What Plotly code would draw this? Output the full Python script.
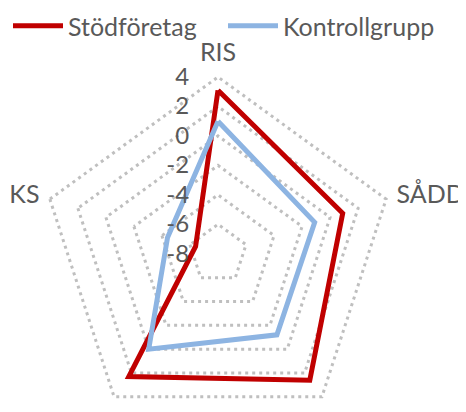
import plotly.graph_objects as go

categories = ["RIS", "SÅDD", "FUB", "TRP", "KS"]
stod_values = [3.1, 0.9, 2.6, 2.3, -6.4]
kontroll_values = [1.0, -1.1, -1.2, 0.0, -4.4]
series_names = ["Stödföretag", "Kontrollgrupp"]
radial_ticks = [-8, -6, -4, -2, 0, 2, 4]

FONT = "Lato, Open Sans, sans-serif"
GREY = "#595959"

fig = go.Figure()
fig.add_trace(go.Scatterpolar(
    r=stod_values + stod_values[:1], theta=categories + categories[:1],
    mode="lines", name=series_names[0],
    line=dict(color="#C00000", width=5),
))
fig.add_trace(go.Scatterpolar(
    r=kontroll_values + kontroll_values[:1], theta=categories + categories[:1],
    mode="lines", name=series_names[1],
    line=dict(color="#8DB4E2", width=5),
))

# page body has an 8px margin; figure coordinates are shifted accordingly
W = 466
R_MAX = 4.3
R = 177 * (R_MAX + 8) / 12.0
cx, cy = 210, 246
H = int(round(cy + R))
fig.update_layout(
    width=W, height=H,
    margin=dict(l=0, r=0, t=0, b=0, autoexpand=False),
    paper_bgcolor="white",
    font=dict(family=FONT, color=GREY),
    showlegend=True,
    legend=dict(orientation="h", x=0, y=1 + 5 / H, xref="paper", yref="paper",
                xanchor="left", yanchor="top", font=dict(size=25, color=GREY),
                itemwidth=50, entrywidth=150, entrywidthmode="pixels",
                tracegroupgap=0, bgcolor="rgba(0,0,0,0)"),
    polar=dict(
        bgcolor="white",
        gridshape="linear",
        domain=dict(x=[(cx - R) / W, (cx + R) / W], y=[0, 1 - (cy - R) / H]),
        radialaxis=dict(
            range=[-8, R_MAX], tickvals=radial_ticks, ticktext=[str(v) for v in radial_ticks],
            angle=90, tickangle=90, side="counterclockwise",
            showline=False, ticks="outside", ticklen=20, tickcolor="rgba(0,0,0,0)",
            tickfont=dict(size=24, color=GREY, family=FONT),
            showgrid=True, gridcolor="#BFBFBF", gridwidth=3, griddash="3px,4px",
        ),
        angularaxis=dict(
            rotation=90, direction="clockwise",
            showline=False, showgrid=False,
            ticks="outside", ticklen=1, tickcolor="rgba(0,0,0,0)",
            tickfont=dict(size=25, color=GREY, family=FONT),
        ),
    ),
)

fig.write_html("out.html")
